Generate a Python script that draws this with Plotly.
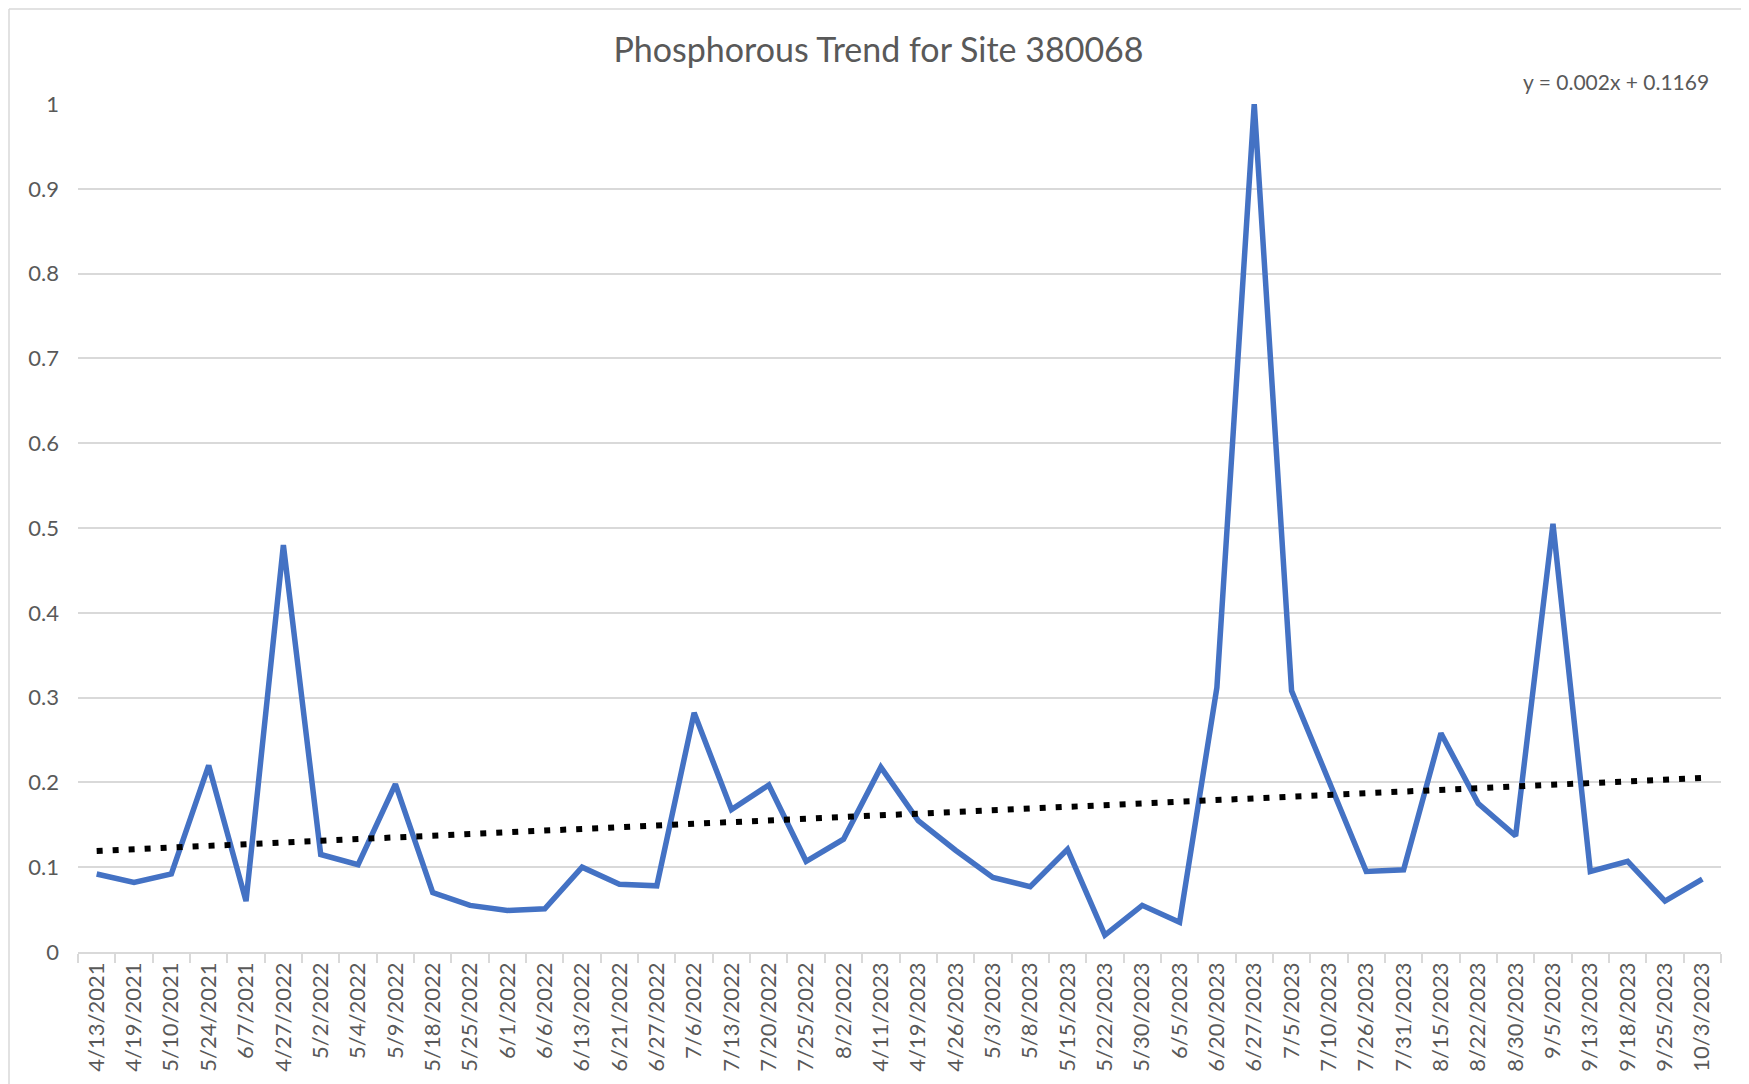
import numpy as np
import plotly.graph_objects as go

dates = ["4/13/2021", "4/19/2021", "5/10/2021", "5/24/2021", "6/7/2021",
         "4/27/2022", "5/2/2022", "5/4/2022", "5/9/2022", "5/18/2022",
         "5/25/2022", "6/1/2022", "6/6/2022", "6/13/2022", "6/21/2022",
         "6/27/2022", "7/6/2022", "7/13/2022", "7/20/2022", "7/25/2022",
         "8/2/2022", "4/11/2023", "4/19/2023", "4/26/2023", "5/3/2023",
         "5/8/2023", "5/15/2023", "5/22/2023", "5/30/2023", "6/5/2023",
         "6/20/2023", "6/27/2023", "7/5/2023", "7/10/2023", "7/26/2023",
         "7/31/2023", "8/15/2023", "8/22/2023", "8/30/2023", "9/5/2023",
         "9/13/2023", "9/18/2023", "9/25/2023", "10/3/2023"]

phosphorous = [0.092, 0.082, 0.092, 0.220, 0.060,
               0.480, 0.115, 0.103, 0.198, 0.070,
               0.055, 0.049, 0.051, 0.100, 0.080,
               0.078, 0.282, 0.168, 0.197, 0.107,
               0.133, 0.218, 0.155, 0.120, 0.088,
               0.077, 0.121, 0.020, 0.055, 0.035,
               0.312, 1.000, 0.308, 0.200, 0.095,
               0.097, 0.258, 0.175, 0.137, 0.505,
               0.095, 0.107, 0.060, 0.086]

y_ticks = [0, 0.1, 0.2, 0.3, 0.4, 0.5, 0.6, 0.7, 0.8, 0.9, 1]
y_tick_labels = ["0", "0.1", "0.2", "0.3", "0.4", "0.5", "0.6", "0.7", "0.8", "0.9", "1"]

title_text = "Phosphorous Trend for Site 380068"
equation_text = "y = 0.002x + 0.1169"

# Linear trendline (Excel style: x = 1..n)
xi = np.arange(1, len(phosphorous) + 1)
slope, intercept = np.polyfit(xi, phosphorous, 1)
trend = slope * xi + intercept

# page has an 8px body margin, so the figure is placed at (8, 8)
W, H = 1741, 1076
L, R, T, B = 70, 28, 96, 132
pw, ph = W - L - R, H - T - B

def px2paper_x(px):
    return (px - L) / pw

def px2paper_y(py):
    return (H - B - py) / ph

FONT = "Lato"
GREY = "#595959"

fig = go.Figure()
fig.add_trace(go.Scatter(
    x=dates, y=phosphorous, mode="lines",
    line=dict(color="#4472C4", width=5.5),
    showlegend=False, name="Phosphorous"))
fig.add_trace(go.Scatter(
    x=dates, y=trend, mode="lines",
    line=dict(color="#000000", width=6, dash="6px,10px"),
    showlegend=False, name="Linear trend"))

fig.update_layout(
    width=W, height=H,
    margin=dict(l=L, r=R, t=T, b=B),
    paper_bgcolor="white", plot_bgcolor="white",
    font=dict(family=FONT, color=GREY, size=22),
    title=dict(text=title_text, x=0.5, xanchor="center",
               y=1 - 42 / H, yanchor="middle",
               font=dict(family=FONT, size=34, color=GREY)),
    xaxis=dict(type="category", tickangle=-90,
               showgrid=False, showline=True, linecolor="#D9D9D9", linewidth=1.5,
               ticks="outside", tickson="boundaries", ticklen=9, tickcolor="#D9D9D9",
               tickwidth=1.5, tickfont=dict(size=22, color=GREY),
               range=[-0.5, len(dates) - 0.5]),
    yaxis=dict(range=[0, 1], tickvals=y_ticks, ticktext=y_tick_labels,
               showgrid=True, gridcolor="#D9D9D9", gridwidth=1.5,
               zeroline=False, showline=False, ticks="",
               ticklabelstandoff=18, tickfont=dict(size=22, color=GREY)),
)

fig.add_annotation(
    text=equation_text, xref="paper", yref="paper",
    x=px2paper_x(1703), y=px2paper_y(73), xanchor="right", yanchor="middle",
    showarrow=False, font=dict(family=FONT, size=21, color=GREY))

# chart-area border (top and left edges visible in the reference)
fig.add_shape(
    type="line", xref="paper", yref="paper",
    x0=px2paper_x(1), x1=px2paper_x(W), y0=px2paper_y(1), y1=px2paper_y(1),
    line=dict(color="#D9D9D9", width=1.5), layer="below")
fig.add_shape(
    type="line", xref="paper", yref="paper",
    x0=px2paper_x(1), x1=px2paper_x(1), y0=px2paper_y(1), y1=px2paper_y(H),
    line=dict(color="#D9D9D9", width=1.5), layer="below")

fig.write_html("out.html")
